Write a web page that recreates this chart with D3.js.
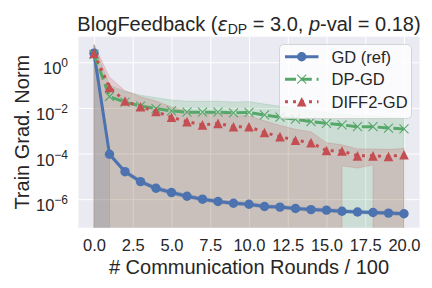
<!DOCTYPE html>
<html>
<head>
<meta charset="utf-8">
<script src="https://cdn.jsdelivr.net/npm/d3@7"></script>
<style>
  body { margin: 0; background: #fff; }
  svg { display: block; font-family: 'Liberation Sans', Arial, sans-serif; }
</style>
</head>
<body>
<div id="chart"></div>
<script>
// values (log y axis)
const ROUNDS = [0, 1, 2, 3, 4, 5, 6, 7, 8, 9, 10, 11, 12, 13, 14, 15, 16, 17, 18, 19, 20];

const GD_MEAN = [2.5, 9.3e-5, 1.6e-5, 5.9e-6, 3.0e-6, 1.95e-6, 1.35e-6, 1.0e-6, 7.9e-7, 6.6e-7, 6.0e-7,
  4.8e-7, 4.5e-7, 3.9e-7, 3.5e-7, 3.3e-7, 2.95e-7, 2.75e-7, 2.6e-7, 2.45e-7, 2.3e-7];
const GD_UPPER = [5.5, 1.15e-4, 2.0e-5, 7.3e-6, 3.7e-6, 2.4e-6, 1.65e-6, 1.22e-6, 9.6e-7, 8.0e-7, 7.3e-7,
  5.8e-7, 5.4e-7, 4.7e-7, 4.2e-7, 4.0e-7, 3.55e-7, 3.3e-7, 3.1e-7, 2.95e-7, 2.75e-7];
// null = mean - std is not positive, the band runs off the bottom of the log axis
const GD_LOWER = [null, 7.5e-5, 1.28e-5, 4.8e-6, 2.45e-6, 1.6e-6, 1.1e-6, 8.2e-7, 6.5e-7, 5.4e-7, 4.9e-7,
  4.0e-7, 3.7e-7, 3.2e-7, 2.9e-7, 2.7e-7, 2.45e-7, 2.3e-7, 2.15e-7, 2.0e-7, 1.9e-7];

const DP_MEAN = [2.24, 0.0316, 0.0178, 0.012, 0.0093, 0.0074, 0.0065, 0.0065, 0.0065, 0.006, 0.0063,
  0.0049, 0.0039, 0.0032, 0.0025, 0.0021, 0.0018, 0.0015, 0.0015, 0.0013, 0.0012];
const DP_UPPER = [6.0, 0.095, 0.053, 0.036, 0.028, 0.022, 0.0195, 0.0195, 0.0195, 0.018, 0.019,
  0.0147, 0.0117, 0.0096, 0.0075, 0.0063, 0.0054, 0.0045, 0.0045, 0.0039, 0.0036];
const DP_LOWER = [null, null, null, null, null, null, null, null, null, null, null,
  null, null, null, null, null, null, null, null, null, null];

const DIFF2_MEAN = [2.45, 0.079, 0.02, 0.0112, 0.0069, 0.0039, 0.0025, 0.0018, 0.0021, 0.0015, 0.0015,
  8.3e-4, 5.5e-4, 3.8e-4, 3.0e-4, 1.35e-4, 1.3e-4, 7.9e-5, 7.9e-5, 7.4e-5, 8.9e-5];
const DIFF2_UPPER = [6.0, 0.22, 0.056, 0.031, 0.02, 0.011, 0.0072, 0.0052, 0.006, 0.0045, 0.0045,
  0.0027, 0.0017, 0.00115, 9.0e-4, 3.0e-4, 2.4e-4, 1.6e-4, 1.6e-4, 1.5e-4, 1.7e-4];
const DIFF2_LOWER = [null, null, null, null, null, null, null, null, null, null, null,
  null, null, null, null, null, 2.9e-5, 2.3e-5, 3.2e-5, null, null];

const SERIES_NAMES = ['GD (ref)', 'DP-GD', 'DIFF2-GD'];
const X_TICKS = [0, 2.5, 5, 7.5, 10, 12.5, 15, 17.5, 20];
const Y_TICK_EXPONENTS = [0, -2, -4, -6];

const BLUE = '#4c72b0';
const GREEN = '#55a868';
const RED = '#c44e52';

const LEFT = 78.5;
const RIGHT = 419.5;
const TOP = 36.7;
const BOTTOM = 227.7;

let x = d3.scaleLinear().domain([-1, 21]).range([LEFT, RIGHT]);
let y = d3.scaleLog().domain([Math.pow(10, -7.25), Math.pow(10, 1.12)]).range([BOTTOM, TOP]);

let series = [
  { name: SERIES_NAMES[0], color: BLUE, mean: GD_MEAN, upper: GD_UPPER, lower: GD_LOWER, dash: null, marker: 'circle' },
  { name: SERIES_NAMES[1], color: GREEN, mean: DP_MEAN, upper: DP_UPPER, lower: DP_LOWER, dash: '11,4.8', marker: 'x' },
  { name: SERIES_NAMES[2], color: RED, mean: DIFF2_MEAN, upper: DIFF2_UPPER, lower: DIFF2_LOWER, dash: '3,5', marker: 'triangle' },
];

let svg = d3.select('#chart').append('svg')
  .attr('width', 432)
  .attr('height', 288);

svg.append('defs').append('clipPath')
  .attr('id', 'plot-clip')
  .append('rect')
  .attr('x', LEFT).attr('y', TOP)
  .attr('width', RIGHT - LEFT).attr('height', BOTTOM - TOP);

svg.append('rect')
  .attr('x', LEFT).attr('y', TOP)
  .attr('width', RIGHT - LEFT).attr('height', BOTTOM - TOP)
  .attr('fill', '#eaeaf2');

// grid
let xAxis = svg.append('g')
  .attr('transform', `translate(0,${BOTTOM})`)
  .call(d3.axisBottom(x).tickValues(X_TICKS).tickSize(-(BOTTOM - TOP)).tickPadding(12).tickFormat(d3.format('.1f')));
xAxis.select('.domain').remove();
xAxis.selectAll('line').attr('stroke', '#fff').attr('stroke-width', 1);
xAxis.selectAll('text')
  .attr('fill', '#262626')
  .style('font-size', '16.5px')
  .style('font-family', "'Liberation Sans', Arial, sans-serif");

let yAxis = svg.append('g')
  .attr('transform', `translate(${LEFT},0)`)
  .call(d3.axisLeft(y).tickValues(Y_TICK_EXPONENTS.map((e) => Math.pow(10, e))).tickSize(-(RIGHT - LEFT)).tickFormat(''));
yAxis.select('.domain').remove();
yAxis.selectAll('line').attr('stroke', '#fff').attr('stroke-width', 1);
yAxis.selectAll('.tick').each(function (d, i) {
  let label = d3.select(this).append('text')
    .attr('y', 11.7)
    .attr('text-anchor', 'start')
    .attr('fill', '#262626')
    .style('font-size', '16.5px')
    .style('font-family', "'Liberation Sans', Arial, sans-serif")
    .text('10');
  label.append('tspan')
    .attr('dy', -7)
    .style('font-size', '12px')
    .text(Y_TICK_EXPONENTS[i] === 0 ? '0' : '\u2212' + Math.abs(Y_TICK_EXPONENTS[i]));
});
// keep right edge of "10^e" at a fixed distance from the axes
yAxis.selectAll('.tick text').attr('x', function () {
  let w = this.getComputedTextLength();
  return -10.5 - w;
});

let plot = svg.append('g').attr('clip-path', 'url(#plot-clip)');

// std bands
let band = d3.area()
  .x((d) => x(d.r))
  .y0((d) => d.lo == null ? BOTTOM + 1e6 : y(d.lo))
  .y1((d) => y(d.hi));

series.forEach((s) => {
  let rows = ROUNDS.map((r, i) => ({ r: r, hi: s.upper[i], lo: s.lower[i] }));
  plot.append('path')
    .attr('d', band(rows))
    .attr('fill', s.color)
    .attr('fill-opacity', 0.2)
    .attr('stroke', s.color)
    .attr('stroke-opacity', 0.2)
    .attr('stroke-width', 1);
});

let line = d3.line()
  .x((d) => x(d.r))
  .y((d) => y(d.v));

let markerPath = (kind) => {
  if (kind === 'x') return 'M-4.5,-4.5L4.5,4.5M-4.5,4.5L4.5,-4.5';
  if (kind === 'triangle') return 'M0,-4.8L4.8,4.8L-4.8,4.8Z';
  return null;
};

let drawMarker = (g, kind, color) => {
  if (kind === 'circle') {
    g.append('circle').attr('r', 4.7).attr('fill', color);
  } else if (kind === 'x') {
    g.append('path').attr('d', markerPath(kind))
      .attr('fill', 'none').attr('stroke', color).attr('stroke-width', 1.1);
  } else {
    g.append('path').attr('d', markerPath(kind)).attr('fill', color);
  }
};

series.forEach((s) => {
  let rows = ROUNDS.map((r, i) => ({ r: r, v: s.mean[i] }));
  plot.append('path')
    .attr('d', line(rows))
    .attr('fill', 'none')
    .attr('stroke', s.color)
    .attr('stroke-width', 3)
    .attr('stroke-dasharray', s.dash)
    .attr('stroke-linecap', s.dash ? 'butt' : 'round')
    .attr('stroke-linejoin', 'round');

  plot.selectAll(null)
    .data(rows)
    .enter().append('g')
    .attr('transform', (d) => `translate(${x(d.r)},${y(d.v)})`)
    .each(function () { drawMarker(d3.select(this), s.marker, s.color); });
});

// title and labels
let title = svg.append('text')
  .attr('x', (LEFT + RIGHT) / 2)
  .attr('y', 30.5)
  .attr('text-anchor', 'middle')
  .attr('fill', '#262626')
  .style('font-size', '20px');
title.append('tspan').text('BlogFeedback (');
title.append('tspan').style('font-style', 'italic').style('font-family', "'DejaVu Sans', sans-serif").style('font-size', '19px').text('\u03b5');
title.append('tspan').attr('dy', 3.5).style('font-size', '14px').text('DP');
title.append('tspan').attr('dy', -3.5).text(' = 3.0, ');
title.append('tspan').style('font-style', 'italic').text('p');
title.append('tspan').text('-val = 0.18)');

svg.append('text')
  .attr('x', (LEFT + RIGHT) / 2)
  .attr('y', 273.5)
  .attr('text-anchor', 'middle')
  .attr('fill', '#262626')
  .style('font-size', '20px')
  .text('# Communication Rounds / 100');

svg.append('text')
  .attr('transform', `translate(28.5,${(TOP + BOTTOM) / 2}) rotate(-90)`)
  .attr('text-anchor', 'middle')
  .attr('fill', '#262626')
  .style('font-size', '20px')
  .text('Train Grad. Norm');

// legend
let legend = svg.append('g');
legend.append('rect')
  .attr('x', 279.5).attr('y', 44.5)
  .attr('width', 132).attr('height', 74)
  .attr('rx', 4)
  .attr('fill', '#ffffff')
  .attr('fill-opacity', 0.8)
  .attr('stroke', '#cccccc')
  .attr('stroke-opacity', 0.8);

series.forEach((s, i) => {
  let cy = 56.7 + i * 22.5;
  let row = legend.append('g').attr('transform', `translate(0,${cy})`);
  row.append('line')
    .attr('x1', 285).attr('x2', 318.5)
    .attr('stroke', s.color)
    .attr('stroke-width', 3)
    .attr('stroke-dasharray', s.dash);
  let m = row.append('g').attr('transform', 'translate(301.7,0)');
  drawMarker(m, s.marker, s.color);
  row.append('text')
    .attr('x', 331.5)
    .attr('y', 6)
    .attr('fill', '#262626')
    .style('font-size', '16.5px')
    .text(s.name);
});
</script>
</body>
</html>
